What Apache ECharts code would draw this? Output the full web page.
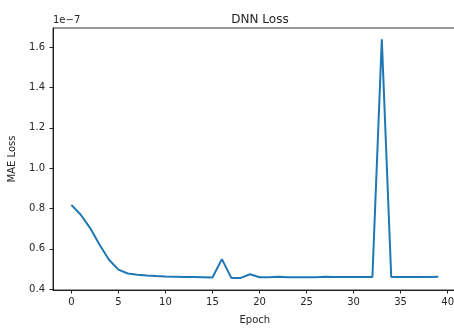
<!DOCTYPE html>
<html>
<head>
<meta charset="utf-8">
<script src="https://cdn.jsdelivr.net/npm/echarts@6/dist/echarts.min.js"></script>
<style>
  html, body { margin: 0; padding: 0; background: #fff; }
  #chart { width: 454px; height: 330px; }
</style>
</head>
<body>
<div id="chart"></div>
<script>
// epochs 0..39, loss in units of 1e-7
const epochs = [0,1,2,3,4,5,6,7,8,9,10,11,12,13,14,15,16,17,18,19,20,21,22,23,24,25,26,27,28,29,30,31,32,33,34,35,36,37,38,39]
const loss = [
  0.818, 0.769, 0.703, 0.620, 0.546, 0.497, 0.478, 0.472, 0.468, 0.465,
  0.463, 0.462, 0.461, 0.460, 0.459, 0.458, 0.549, 0.456, 0.456, 0.474,
  0.459, 0.459, 0.462, 0.459, 0.459, 0.459, 0.459, 0.462, 0.460, 0.460,
  0.460, 0.460, 0.461, 1.638, 0.461, 0.461, 0.461, 0.461, 0.461, 0.462,
]
const xTicks = [0, 5, 10, 15, 20, 25, 30, 35, 40]
const yTicks = [0.4, 0.6, 0.8, 1.0, 1.2, 1.4, 1.6]

const font = 'DejaVu Sans'
const txt = '#262626'
const spine = { color: '#000', width: 0.8 }
const tick = { color: '#222', width: 1 }

const chart = echarts.init(document.getElementById('chart'))

const option = {
  animation: false,
  textStyle: { fontFamily: font },
  title: {
    text: 'DNN Loss',
    left: 255,
    top: 9,
    textAlign: 'center',
    textStyle: { fontFamily: font, fontSize: 12, fontWeight: 'normal', color: txt },
  },
  graphic: [
    {
      type: 'text',
      left: 53,
      top: 15,
      style: { text: '1e\u22127', fontFamily: font, fontSize: 10, fill: txt },
    },
  ],
  grid: {
    left: 53,
    top: 28,
    width: 403.6,
    height: 262,
    outerBoundsMode: 'none',
    containLabel: false,
    show: true,
    borderColor: '#000',
    borderWidth: 0.8,
    backgroundColor: '#fff',
  },
  xAxis: {
    type: 'value',
    min: -1.95,
    max: 40.95,
    name: 'Epoch',
    nameLocation: 'middle',
    nameGap: 25,
    nameTextStyle: { fontFamily: font, fontSize: 10, color: txt },
    axisLine: { show: true, onZero: false, lineStyle: spine },
    splitLine: { show: false },
    axisTick: { show: true, inside: false, customValues: xTicks, length: 3.5, lineStyle: tick },
    axisLabel: {
      customValues: xTicks,
      margin: 7,
      fontFamily: font,
      fontSize: 10,
      color: txt,
    },
  },
  yAxis: {
    type: 'value',
    min: 0.396,
    max: 1.6945,
    name: 'MAE Loss',
    nameLocation: 'middle',
    nameGap: 36,
    nameRotate: 90,
    nameTextStyle: { fontFamily: font, fontSize: 10, color: txt },
    axisLine: { show: true, onZero: false, lineStyle: spine },
    splitLine: { show: false },
    axisTick: { show: true, inside: false, customValues: yTicks, length: 3.5, lineStyle: tick },
    axisLabel: {
      customValues: yTicks,
      margin: 8,
      fontFamily: font,
      fontSize: 10,
      color: txt,
      formatter: v => v.toFixed(1),
    },
  },
  series: [
    {
      type: 'line',
      data: epochs.map((e, i) => [e, loss[i]]),
      showSymbol: false,
      lineStyle: { color: '#1f77b4', width: 2 },
      itemStyle: { color: '#1f77b4' },
      clip: true,
    },
  ],
}

chart.setOption(option)
</script>
</body>
</html>
